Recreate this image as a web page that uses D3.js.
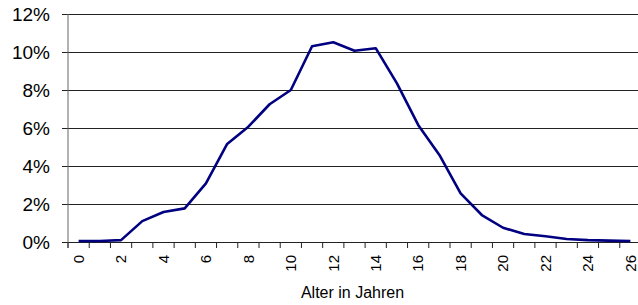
<!DOCTYPE html>
<html>
<head>
<meta charset="utf-8">
<script src="https://cdn.jsdelivr.net/npm/d3@7"></script>
<style>
  body { margin: 0; background: #fff; }
  svg { display: block; font-family: "Liberation Sans", Arial, sans-serif; }
</style>
</head>
<body>
<div class="chart"></div>
<script>
// age categories and share of population (percent)
var ages = d3.range(0, 27);
var shares = [0.05, 0.05, 0.1, 1.1, 1.58, 1.77, 3.09, 5.16, 6.07, 7.25, 8.0,
              10.3, 10.51, 10.07, 10.2, 8.35, 6.16, 4.58, 2.56, 1.42, 0.75,
              0.42, 0.3, 0.16, 0.1, 0.07, 0.05];
var yTicks = [0, 2, 4, 6, 8, 10, 12];
var xLabels = ages.filter(function(a){ return a % 2 == 0; });
var xTitle = "Alter in Jahren";

var width = 638,
    height = 305;

//plot frame (note: "top" is taken by window.top, so prefixed names)
var plotLeft = 68, plotRight = 641, plotTop = 14, plotBottom = 242;

var svg = d3.select("div.chart")
    .append("svg")
    .attr("width", width)
    .attr("height", height);

var x = d3.scaleBand()
    .domain(ages)
    .range([plotLeft, plotRight])
    .padding(0);

var y = d3.scaleLinear()
    .domain([0, 12])
    .range([plotBottom, plotTop]);

//gridlines + y labels
var yAxis = svg.append("g")
    .attr("transform", "translate(" + plotLeft + ",0)")
    .call(d3.axisLeft(y)
        .tickValues(yTicks)
        .tickSize(6)
        .tickPadding(12)
        .tickFormat(function(d){ return d + "%"; }));
yAxis.select(".domain").remove();
yAxis.selectAll(".tick line")
    .attr("x1", -6)
    .attr("x2", plotRight - plotLeft)
    .attr("stroke", "#222");
yAxis.selectAll(".tick text")
    .attr("font-size", "19px")
    .attr("fill", "#000");

//vertical axis line
svg.append("line")
    .attr("x1", plotLeft).attr("x2", plotLeft)
    .attr("y1", plotTop).attr("y2", plotBottom + 6)
    .attr("stroke", "#666");

//category ticks between bands
var edges = ages.map(function(a){ return x(a); }).concat([plotRight]);
svg.selectAll(".xtick")
    .data(edges)
    .enter()
    .append("line")
    .attr("class", "xtick")
    .attr("x1", function(d){ return d; })
    .attr("x2", function(d){ return d; })
    .attr("y1", plotBottom)
    .attr("y2", plotBottom + 6)
    .attr("stroke", "#222");

//rotated x labels
var xAxis = svg.append("g")
    .attr("transform", "translate(0," + plotBottom + ")")
    .call(d3.axisBottom(x).tickValues(xLabels).tickSize(0).tickPadding(0));
xAxis.select(".domain").remove();
xAxis.selectAll(".tick text")
    .attr("font-size", "15px")
    .attr("fill", "#000")
    .attr("transform", "rotate(-90)")
    .attr("x", -13)
    .attr("y", 0)
    .attr("dy", "0.35em")
    .attr("text-anchor", "end");

//axis title
svg.append("text")
    .attr("x", (plotLeft + 637) / 2)
    .attr("y", 298)
    .attr("text-anchor", "middle")
    .attr("font-size", "16px")
    .text(xTitle);

//data line
var line = d3.line()
    .x(function(d, i){ return x(ages[i]) + x.bandwidth() / 2; })
    .y(function(d){ return y(d); });

svg.append("path")
    .datum(shares)
    .attr("fill", "none")
    .attr("stroke", "#000080")
    .attr("stroke-width", 2.6)
    .attr("stroke-linejoin", "round")
    .attr("d", line);
</script>
</body>
</html>
